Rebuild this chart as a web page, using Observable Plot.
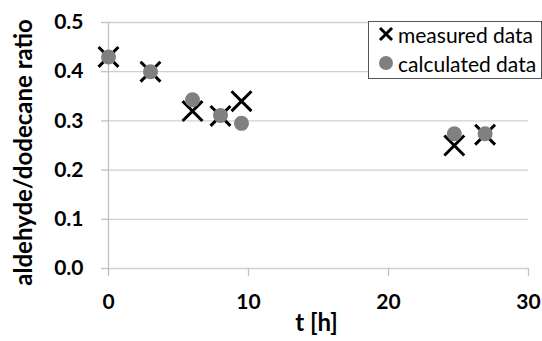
<!DOCTYPE html>
<html><head><meta charset="utf-8">
<script src="https://cdn.jsdelivr.net/npm/d3@7"></script>
<script src="https://cdn.jsdelivr.net/npm/@observablehq/plot@0.6"></script>
<style>
body{margin:0;background:#fff;font-family:Lato,"Open Sans",sans-serif;}
#wrap{position:relative;width:542px;height:341px;}
#legend{position:absolute;left:368px;top:21px;width:172px;height:56px;border:1px solid #555;background:#fff;font-size:21px;color:#000;}
.row{position:absolute;left:0;display:flex;align-items:center;height:26px;white-space:nowrap;}
.row svg{margin-left:9px;margin-right:4px;}
</style></head><body>
<div id="wrap"><div id="legend">
<div class="row" style="top:-1px"><svg width="16" height="16"><path d="M2,2L14,14M14,2L2,14" stroke="#000" stroke-width="3"/></svg><span>measured data</span></div>
<div class="row" style="top:28px"><svg width="16" height="16"><circle cx="8" cy="8" r="7" fill="#808080"/></svg><span>calculated data</span></div>
</div></div>
<script>
const tMeasured = [0, 3, 6, 8, 9.5, 24.7, 26.9];
const measured = [0.43, 0.40, 0.32, 0.31, 0.34, 0.25, 0.272];
const tCalculated = [0, 3, 6, 8, 9.5, 24.7, 26.9];
const calculated = [0.43, 0.40, 0.343, 0.311, 0.295, 0.274, 0.274];
const yTicks = [0, 0.1, 0.2, 0.3, 0.4, 0.5];
const xTicks = [0, 10, 20, 30];

const mData = tMeasured.map((t, i) => ({t, v: measured[i]}));
const cData = tCalculated.map((t, i) => ({t, v: calculated[i]}));

const chart = Plot.plot({
  width: 542, height: 341,
  marginLeft: 108, marginRight: 14, marginTop: 22, marginBottom: 73,
  style: {fontFamily: "Lato, 'Open Sans', sans-serif", background: "#fff"},
  x: {domain: [0, 30]},
  y: {domain: [0, 0.5]},
  marks: [
    Plot.ruleY(yTicks, {x1: 0, x2: 30, stroke: "#d0d0d0", strokeWidth: 1.3}),
    Plot.ruleX([0], {y1: 0, y2: 0.5, stroke: "#c0c0c0", strokeWidth: 1.3}),
    Plot.axisY(yTicks, {tickSize: 7, tickPadding: 18, stroke: "#c0c0c0", fill: "#000", strokeWidth: 1.3,
      tickFormat: d3.format(".1f"), fontSize: 21, fontWeight: "bold", label: null}),
    Plot.axisX(xTicks, {tickSize: 8, tickPadding: 18, stroke: "#c0c0c0", fill: "#000", strokeWidth: 1.3,
      fontSize: 21, fontWeight: "bold", label: null}),
    Plot.text(["aldehyde/dodecane ratio"], {frameAnchor: "left", textAnchor: "middle", dx: -84, dy: 7, rotate: -90, fontSize: 24, fontWeight: "bold", fill: "#000"}),
    Plot.text(["t [h]"], {frameAnchor: "bottom", dx: -2, dy: 62, fontSize: 24, fontWeight: "bold", fill: "#000"}),
    Plot.dot(mData, {x: "t", y: "v", symbol: "times", r: 9.1, stroke: "#000", strokeWidth: 3}),
    Plot.dot(cData, {x: "t", y: "v", r: 7.5, fill: "#808080", stroke: "none"})
  ]
});
document.getElementById("wrap").prepend(chart);
chart.style.position = "absolute"; chart.style.left = "0"; chart.style.top = "0";
</script>
</body></html>
